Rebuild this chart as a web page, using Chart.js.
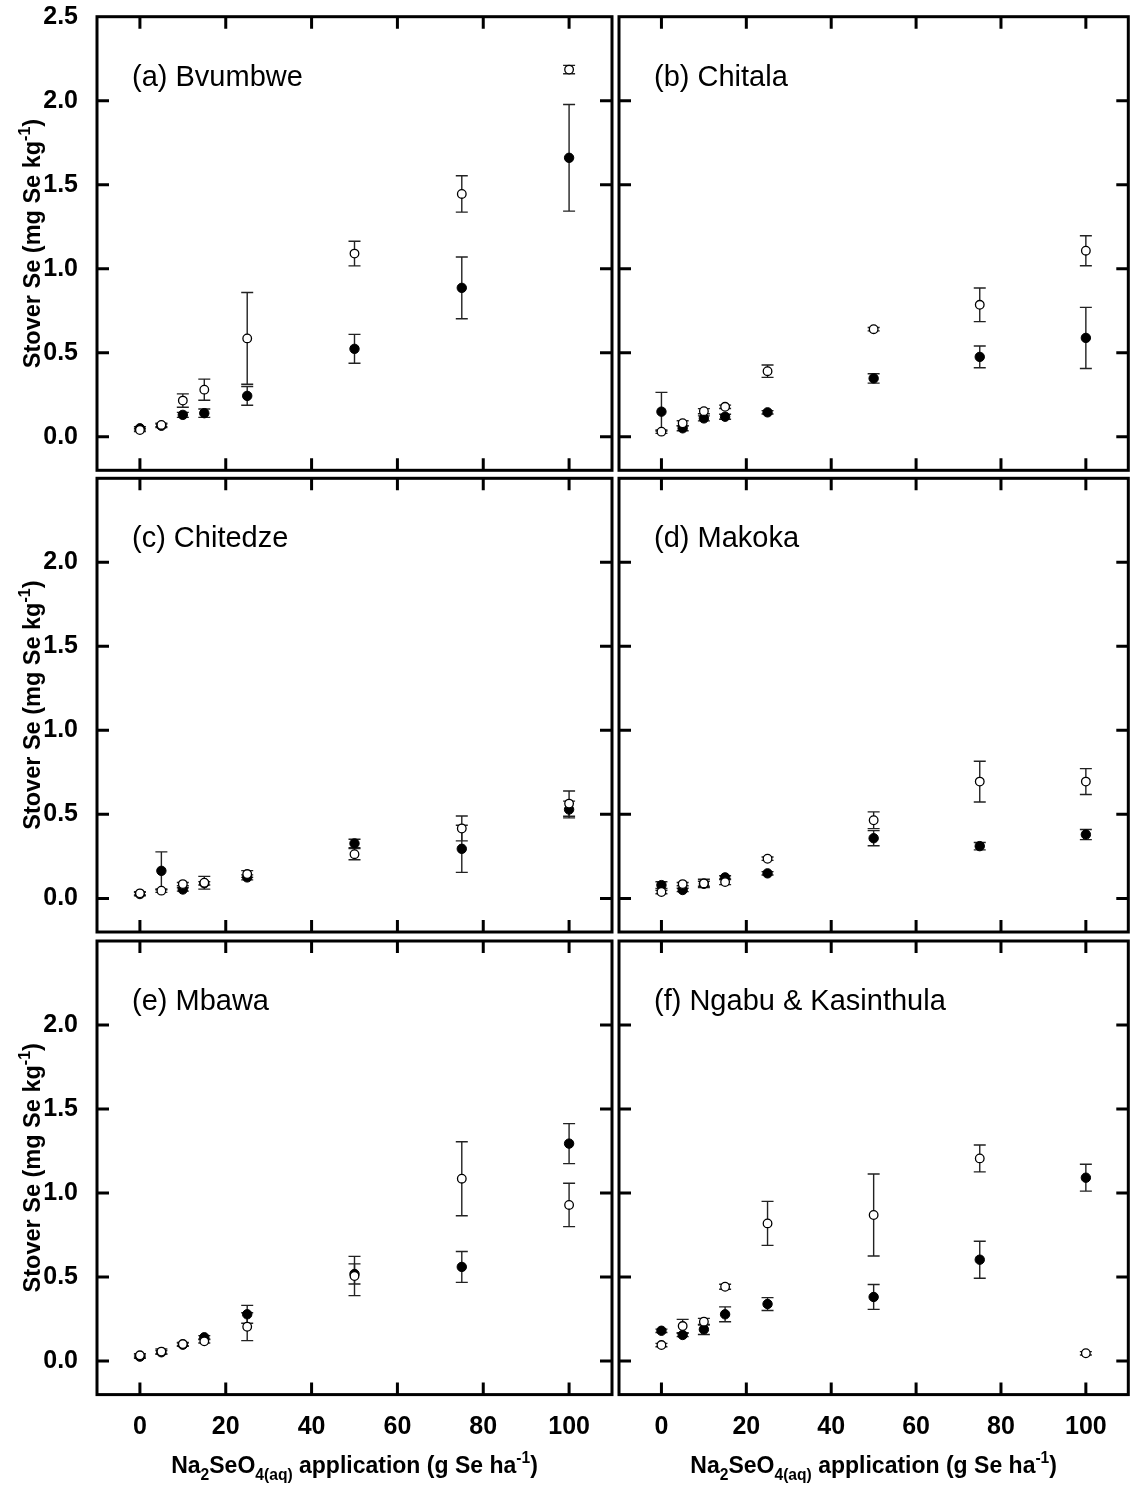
<!DOCTYPE html>
<html>
<head>
<meta charset="utf-8">
<script src="https://cdn.jsdelivr.net/npm/chart.js@4.4.0/dist/chart.umd.min.js"></script>
<style>
  html, body { margin: 0; padding: 0; background: #fff; }
  #wrap { position: relative; width: 1134px; height: 1486px; }
  #wrap canvas { position: absolute; left: 0; top: 0; }
</style>
</head>
<body>
<div id="wrap"></div>
<script>
// Na2SeO4 doses (g Se / ha) and axis ticks
var doses = [0, 5, 10, 15, 25, 50, 75, 100];
var xTicks = [0, 20, 40, 60, 80, 100];
var yTicks = [0, 0.5, 1.0, 1.5, 2.0, 2.5];
var siteNames = ['(a) Bvumbwe', '(b) Chitala', '(c) Chitedze', '(d) Makoka', '(e) Mbawa', '(f) Ngabu & Kasinthula'];

// stover Se, open and filled symbols, with error (+/-)
var aOpen      = [0.04, 0.07, 0.215, 0.28, 0.585, 1.09, 1.445, 2.185];
var aOpenErr   = [0.01, 0.01, 0.04, 0.063, 0.273, 0.073, 0.108, 0.025];
var aFilled    = [0.05, 0.065, 0.13, 0.14, 0.243, 0.523, 0.886, 1.66];
var aFilledErr = [0.01, 0.01, 0.015, 0.025, 0.056, 0.086, 0.184, 0.317];

var bOpen      = [0.03, 0.08, 0.152, 0.178, 0.39, 0.64, 0.785, 1.107];
var bOpenErr   = [0.01, 0.015, 0.015, 0.01, 0.037, 0.01, 0.1, 0.089];
var bFilled    = [0.149, 0.05, 0.109, 0.119, 0.145, 0.347, 0.475, 0.588];
var bFilledErr = [0.115, 0.015, 0.015, 0.015, 0.01, 0.028, 0.065, 0.182];

var cOpen      = [0.03, 0.046, 0.085, 0.093, 0.145, 0.263, 0.416, 0.564];
var cOpenErr   = [0.01, 0.01, 0.01, 0.038, 0.02, 0.033, 0.074, 0.075];
var cFilled    = [0.026, 0.164, 0.053, 0.09, 0.125, 0.327, 0.295, 0.529];
var cFilledErr = [0.01, 0.113, 0.01, 0.01, 0.015, 0.025, 0.14, 0.05];

var dOpen      = [0.038, 0.085, 0.089, 0.097, 0.236, 0.465, 0.695, 0.695];
var dOpenErr   = [0.01, 0.01, 0.025, 0.015, 0.01, 0.05, 0.121, 0.077];
var dFilled    = [0.079, 0.05, 0.087, 0.125, 0.149, 0.358, 0.311, 0.38];
var dFilledErr = [0.02, 0.01, 0.015, 0.01, 0.01, 0.045, 0.022, 0.03];

var eOpen      = [0.034, 0.056, 0.101, 0.117, 0.204, 0.506, 1.085, 0.929];
var eOpenErr   = [0.01, 0.015, 0.01, 0.01, 0.083, 0.117, 0.22, 0.129];
var eFilled    = [0.026, 0.052, 0.097, 0.141, 0.278, 0.518, 0.56, 1.294];
var eFilledErr = [0.01, 0.01, 0.01, 0.01, 0.053, 0.06, 0.092, 0.119];

var fOpen      = [0.095, 0.208, 0.234, 0.442, 0.819, 0.869, 1.206, 0.046];
var fOpenErr   = [0.01, 0.04, 0.02, 0.015, 0.131, 0.244, 0.08, 0.01];
var fFilled    = [0.18, 0.155, 0.188, 0.278, 0.339, 0.381, 0.603, 1.091];
var fFilledErr = [0.01, 0.01, 0.03, 0.044, 0.038, 0.074, 0.11, 0.08];

var panels = [
  [aOpen, aOpenErr, aFilled, aFilledErr],
  [bOpen, bOpenErr, bFilled, bFilledErr],
  [cOpen, cOpenErr, cFilled, cFilledErr],
  [dOpen, dOpenErr, dFilled, dFilledErr],
  [eOpen, eOpenErr, eFilled, eFilledErr],
  [fOpen, fOpenErr, fFilled, fFilledErr]
];

// page layout (px)
var W = 1134, H = 1486;
var colLeft = [97, 619], colRight = [612, 1133];
var rowTop = [16.7, 478.3, 941], rowBottom = [470.3, 932, 1394.6];
var FONT = '"Liberation Sans", Arial, Helvetica, sans-serif';

var yTitle = [{t: 'Stover Se (mg Se kg'}, {t: '-1', s: 'sup'}, {t: ')'}];
var xTitle = [{t: 'Na'}, {t: '2', s: 'sub'}, {t: 'SeO'}, {t: '4(aq)', s: 'sub'},
              {t: ' application (g Se ha'}, {t: '-1', s: 'sup'}, {t: ')'}];

// text with sub / superscripts, centred on (x, y) baseline
function drawRich(ctx, parts, size, x, y, rotate) {
  ctx.save();
  ctx.translate(x, y);
  if (rotate) ctx.rotate(-Math.PI / 2);
  var widths = parts.map(function(p) {
    ctx.font = 'bold ' + (p.s ? size * 0.68 : size) + 'px ' + FONT;
    return ctx.measureText(p.t).width;
  });
  var total = widths.reduce(function(a, b) { return a + b; }, 0);
  var cx = -total / 2;
  ctx.fillStyle = '#000';
  ctx.textAlign = 'left';
  ctx.textBaseline = 'alphabetic';
  parts.forEach(function(p, i) {
    ctx.font = 'bold ' + (p.s ? size * 0.68 : size) + 'px ' + FONT;
    var dy = p.s === 'sub' ? size * 0.3 : (p.s === 'sup' ? -size * 0.42 : 0);
    ctx.fillText(p.t, cx, dy);
    cx += widths[i];
  });
  ctx.restore();
}

var errorBars = {
  id: 'errorBars',
  beforeDatasetsDraw: function(chart) {
    var ctx = chart.ctx, xs = chart.scales.x, ys = chart.scales.y;
    ctx.save();
    ctx.strokeStyle = '#222';
    ctx.lineWidth = 1.4;
    chart.data.datasets.forEach(function(ds) {
      ds.data.forEach(function(p, i) {
        var e = ds.errors[i];
        var px = xs.getPixelForValue(p.x);
        var y1 = ys.getPixelForValue(p.y + e), y2 = ys.getPixelForValue(p.y - e);
        ctx.beginPath();
        ctx.moveTo(px, y1); ctx.lineTo(px, y2);
        ctx.moveTo(px - 6, y1); ctx.lineTo(px + 6, y1);
        ctx.moveTo(px - 6, y2); ctx.lineTo(px + 6, y2);
        ctx.stroke();
      });
    });
    ctx.restore();
  }
};

var frame = {
  id: 'frame',
  afterDraw: function(chart, args, opts) {
    var ctx = chart.ctx, a = chart.chartArea, xs = chart.scales.x, ys = chart.scales.y;
    ctx.save();
    ctx.strokeStyle = '#000';
    ctx.lineWidth = 3;
    ctx.beginPath();
    xTicks.forEach(function(v) {
      var px = xs.getPixelForValue(v);
      ctx.moveTo(px, a.bottom); ctx.lineTo(px, a.bottom - 12);
      ctx.moveTo(px, a.top); ctx.lineTo(px, a.top + 12);
    });
    yTicks.forEach(function(v) {
      var py = ys.getPixelForValue(v);
      if (py < a.top + 3) return;
      ctx.moveTo(a.left, py); ctx.lineTo(a.left + 12, py);
      ctx.moveTo(a.right, py); ctx.lineTo(a.right - 12, py);
    });
    ctx.stroke();
    ctx.strokeRect(a.left, a.top, a.right - a.left, a.bottom - a.top);

    // panel name
    ctx.fillStyle = '#000';
    ctx.font = '29px ' + FONT;
    ctx.textAlign = 'left';
    ctx.textBaseline = 'alphabetic';
    ctx.fillText(opts.label, a.left + 35, a.top + 69);

    if (opts.yTitle) drawRich(ctx, yTitle, 23.5, 40, (a.top + a.bottom) / 2, true);
    if (opts.xTitle) drawRich(ctx, xTitle, 23, (a.left + a.right) / 2, 1473, false);
    ctx.restore();
  }
};

var wrap = document.getElementById('wrap');
panels.forEach(function(pd, k) {
  var col = k % 2, row = Math.floor(k / 2);
  var canvas = document.createElement('canvas');
  canvas.width = W; canvas.height = H;
  wrap.appendChild(canvas);
  var leftCol = col === 0, bottomRow = row === 2;
  var tickFont = { family: FONT, size: 25, weight: 'bold' };
  // the y axis box holds the left margin, the x axis box the bottom margin
  var yBox = leftCol ? colLeft[col] : 0;
  var xBox = bottomRow ? H - rowBottom[row] : 0;

  new Chart(canvas.getContext('2d'), {
    type: 'scatter',
    data: {
      datasets: [
        {
          data: doses.map(function(x, i) { return { x: x, y: pd[0][i] }; }),
          errors: pd[1],
          pointRadius: 4.3,
          pointBackgroundColor: '#fff',
          pointBorderColor: '#000',
          pointBorderWidth: 1.3
        },
        {
          data: doses.map(function(x, i) { return { x: x, y: pd[2][i] }; }),
          errors: pd[3],
          pointRadius: 4.7,
          pointBackgroundColor: '#000',
          pointBorderColor: '#000',
          pointBorderWidth: 1
        }
      ]
    },
    options: {
      responsive: false,
      animation: false,
      events: [],
      layout: {
        padding: {
          left: colLeft[col] - yBox, right: W - colRight[col],
          top: rowTop[row], bottom: H - rowBottom[row] - xBox
        }
      },
      plugins: {
        legend: { display: false },
        tooltip: { enabled: false },
        frame: { label: siteNames[k], yTitle: leftCol, xTitle: bottomRow }
      },
      scales: {
        x: {
          type: 'linear', min: -10, max: 110,
          grid: { display: false }, border: { display: false },
          ticks: { display: bottomRow, autoSkip: false, color: '#000', font: tickFont, padding: 10, maxRotation: 0 },
          afterBuildTicks: function(s) { s.ticks = xTicks.map(function(v) { return { value: v }; }); },
          afterFit: function(s) { s.height = xBox; s.paddingLeft = 0; s.paddingRight = 0; }
        },
        y: {
          type: 'linear', min: -0.2, max: 2.5,
          grid: { display: false }, border: { display: false },
          ticks: {
            display: leftCol, autoSkip: false, color: '#000', font: tickFont, padding: 11,
            callback: function(v) { return (row > 0 && v === 2.5) ? '' : v.toFixed(1); }
          },
          afterBuildTicks: function(s) { s.ticks = yTicks.map(function(v) { return { value: v }; }); },
          afterFit: function(s) { s.width = yBox; s.paddingTop = 0; s.paddingBottom = 0; }
        }
      }
    },
    plugins: [errorBars, frame]
  });
});
</script>
</body>
</html>
